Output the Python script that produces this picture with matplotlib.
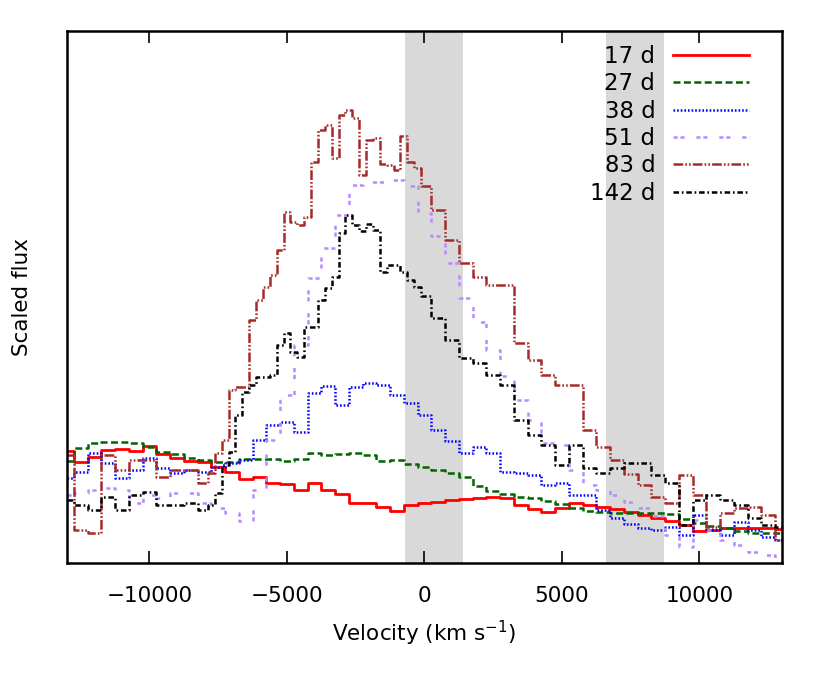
import numpy as np
import matplotlib
matplotlib.use('Agg')
import matplotlib.pyplot as plt

plt.rcParams['font.family'] = ['DejaVu Sans']
plt.rcParams['mathtext.default'] = 'regular'
plt.rcParams['lines.scale_dashes'] = False

# velocity grid of the spectra (km/s)
velocity = np.arange(-13000, 13001, 500)
# the two late spectra are sampled finer on the blue side of the peak
velocity_fine = np.concatenate([np.arange(-13000, -8001, 500),
                                np.arange(-8000, 1, 250),
                                np.arange(500, 13001, 500)])

# scaled flux of each epoch
flux_17d = [1.12, 1.01, 1.06, 1.13, 1.14, 1.12, 1.17, 1.09, 1.05, 1.02, 1.01, 0.96, 0.91,
            0.84, 0.86, 0.80, 0.79, 0.73, 0.80, 0.73, 0.69, 0.60, 0.60, 0.56, 0.52, 0.58,
            0.60, 0.61, 0.63, 0.64, 0.65, 0.66, 0.65, 0.58, 0.54, 0.51, 0.55, 0.60, 0.58,
            0.56, 0.54, 0.51, 0.48, 0.45, 0.42, 0.38, 0.32, 0.33, 0.35, 0.35, 0.35, 0.35, 0.34]
flux_27d = [1.02, 1.15, 1.20, 1.21, 1.21, 1.20, 1.16, 1.11, 1.09, 1.05, 1.03, 1.01, 1.01,
            1.04, 1.04, 1.04, 1.02, 1.04, 1.10, 1.08, 1.09, 1.10, 1.08, 1.02, 1.03, 0.99,
            0.96, 0.93, 0.90, 0.86, 0.77, 0.72, 0.69, 0.66, 0.65, 0.62, 0.59, 0.55, 0.52,
            0.51, 0.50, 0.50, 0.50, 0.50, 0.49, 0.44, 0.40, 0.37, 0.35, 0.32, 0.30, 0.30, 0.30]
flux_38d = [0.85, 0.91, 1.10, 1.00, 0.85, 0.93, 1.05, 0.95, 0.90, 0.93, 0.91, 0.96, 1.00,
            1.03, 1.23, 1.38, 1.41, 1.31, 1.70, 1.77, 1.58, 1.76, 1.80, 1.78, 1.68, 1.60,
            1.48, 1.33, 1.22, 1.10, 1.16, 1.10, 0.91, 0.90, 0.88, 0.78, 0.80, 0.68, 0.68,
            0.53, 0.45, 0.39, 0.35, 0.33, 0.36, 0.28, 0.48, 0.33, 0.28, 0.41, 0.33, 0.26, 0.23]
flux_51d = [0.68, 0.70, 0.73, 0.75, 0.73, 0.60, 0.68, 0.65, 0.70, 0.70, 0.60, 0.55, 0.50,
            0.42, 0.73, 1.23, 1.68, 2.18, 2.85, 3.15, 3.48, 3.78, 3.81, 3.81, 3.83, 3.77,
            3.50, 3.27, 3.00, 2.65, 2.41, 2.13, 1.87, 1.63, 1.43, 1.20, 1.18, 0.93, 0.78,
            0.73, 0.68, 0.61, 0.55, 0.47, 0.28, 0.16, 0.43, 0.33, 0.23, 0.18, 0.11, 0.08, 0.05]
flux_83d = [1.08, 0.33, 0.30, 1.08, 0.93, 1.03, 1.03, 0.86, 0.93, 0.93,
            0.80, 0.90, 1.10, 1.23, 1.73, 1.76, 1.76, 2.43, 2.63, 2.76, 2.88, 3.13, 3.51,
            3.41, 3.38, 3.46, 4.01, 4.33, 4.38, 4.05, 4.48, 4.53, 4.45, 3.88, 4.23, 4.25,
            3.99, 3.98, 3.93, 4.27, 4.01, 3.95, 3.77,
            3.53, 3.23, 3.00, 2.86, 2.78, 2.78, 2.20, 2.03, 1.88, 1.78, 1.78, 1.33, 1.16,
            1.03, 0.89, 0.78, 0.66, 0.60, 0.88, 0.68, 0.36, 0.50, 0.55, 0.56, 0.48, 0.23]
flux_142d = [0.63, 0.58, 0.53, 0.66, 0.53, 0.68, 0.71, 0.58, 0.58, 0.60,
             0.53, 0.58, 0.70, 0.98, 1.11, 1.48, 1.71, 1.78, 1.86, 1.86, 1.88, 2.18, 2.30,
             2.11, 2.06, 2.36, 2.36, 2.63, 2.75, 2.86, 3.30, 3.48, 3.38, 3.32, 3.39, 3.33,
             2.91, 2.98, 2.98, 2.91, 2.83, 2.76, 2.67,
             2.45, 2.23, 2.05, 2.00, 1.88, 1.78, 1.43, 1.28, 1.18, 0.98, 1.18, 0.95, 0.90,
             0.95, 1.00, 1.00, 0.88, 0.80, 0.38, 0.63, 0.68, 0.63, 0.58, 0.45, 0.38, 0.36]

labels = ['17 d', '27 d', '38 d', '51 d', '83 d', '142 d']

# shaded velocity windows (km/s)
bands = [(-700, 1400), (6600, 8700)]

series = [flux_17d, flux_27d, flux_38d, flux_51d, flux_83d, flux_142d]
grids = [velocity, velocity, velocity, velocity, velocity_fine, velocity_fine]
colors = ['#ff0000', '#006400', '#0000ff', '#b68cff', '#a52a2a', '#000000']
styles = ['-', (0, (5, 2.5)), (0, (1.2, 1.4)), (0, (3, 2, 3, 8.5)),
          (0, (7, 1.5, 1.2, 1.5, 1.2, 1.5)), (0, (4, 2, 1.2, 2))]
widths = [2.0, 1.8, 1.8, 1.8, 1.8, 1.8]

fig = plt.figure(figsize=(8.3, 6.77), dpi=100)
ax = fig.add_axes([0.0807, 0.1684, 0.8614, 0.7858])

for lo, hi in bands:
    ax.axvspan(lo, hi, color='#d9d9d9', lw=0, zorder=0)

for x, y, lab, c, ls, lw in zip(grids, series, labels, colors, styles, widths):
    ax.plot(x, y, drawstyle='steps-mid', color=c, ls=ls, lw=lw, label=lab)

ax.set_xlim(-13000, 13000)
ax.set_ylim(0, 5.32)
ax.set_xticks([-10000, -5000, 0, 5000, 10000])
ax.set_yticks([])
ax.tick_params(axis='x', direction='in', length=8.5, width=1.2, top=True,
               labelsize=15.5, pad=16.8)
for s in ax.spines.values():
    s.set_linewidth(1.8)

ax.set_xlabel('Velocity (km s$^{-1}$)', fontsize=15.5, va='top')
ax.xaxis.set_label_coords(0.5, -0.105)
ax.set_ylabel('Scaled flux', fontsize=15.5, labelpad=25)

ax.legend(loc='upper right', bbox_to_anchor=(0.954, 0.974), frameon=False,
          markerfirst=False, fontsize=16.5, handlelength=3.32, handletextpad=0.77,
          labelspacing=0.19, borderpad=0, borderaxespad=0)

fig.savefig('out.png', dpi=100)
